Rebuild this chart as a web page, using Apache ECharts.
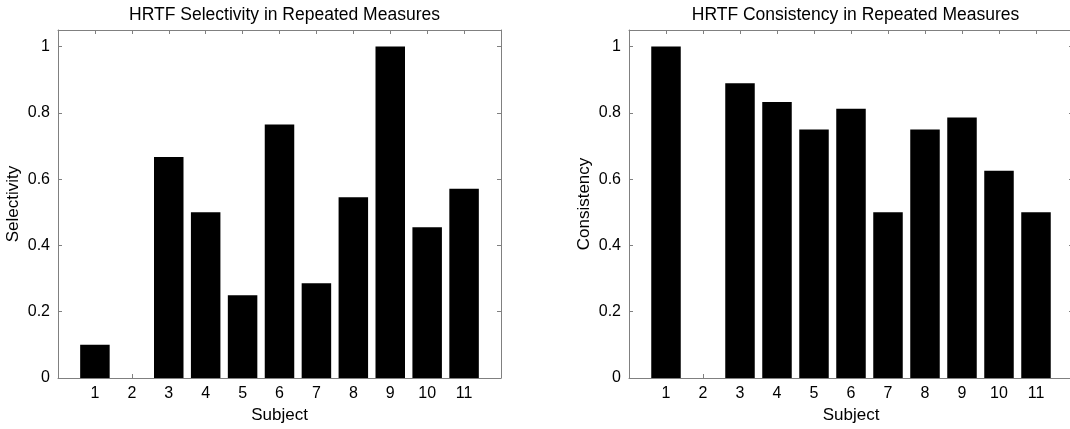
<!DOCTYPE html>
<html><head><meta charset="utf-8">
<script src="https://cdn.jsdelivr.net/npm/echarts@6/dist/echarts.min.js"></script>
<style>html,body{margin:0;padding:0;background:#fff}#c{width:1070px;height:429px}</style>
</head><body><div id="c"></div>
<script>
const subjects = [1,2,3,4,5,6,7,8,9,10,11];
const selectivity = [0.1, 0, 0.667, 0.5, 0.25, 0.765, 0.286, 0.545, 1.0, 0.455, 0.571];
const consistency = [1.0, 0, 0.889, 0.833, 0.75, 0.8125, 0.5, 0.75, 0.786, 0.625, 0.5];
const yTicks = [0, 0.2, 0.4, 0.6, 0.8, 1];
const titles = ['HRTF Selectivity in Repeated Measures', 'HRTF Consistency in Repeated Measures'];
const yNames = ['Selectivity', 'Consistency'];

const FONT = 'Liberation Sans, Arial, Helvetica, sans-serif';
const AX = '#808080';
const grids = [
  {left: 58, top: 30, width: 443, height: 348, outerBoundsMode: 'none', containLabel: false},
  {left: 629, top: 30, width: 444, height: 348, outerBoundsMode: 'none', containLabel: false}
];
const chart = echarts.init(document.getElementById('c'));
const xAxes = [], yAxes = [], series = [], title = [];
[selectivity, consistency].forEach((vals, i) => {
  const base = {gridIndex: i, type: 'value', min: 0, max: 12, interval: 1,
    axisLine: {show: true, onZero: false, lineStyle: {color: AX, width: 1}},
    axisTick: {show: true, inside: true, length: 4, lineStyle: {color: AX}},
    splitLine: {show: false}};
  xAxes.push(Object.assign({}, base, {position: 'bottom',
    name: 'Subject', nameLocation: 'middle', nameGap: 27,
    nameTextStyle: {fontFamily: FONT, fontSize: 17, color: '#000'},
    axisLabel: {show: true, margin: 8, fontFamily: FONT, fontSize: 16, color: '#000',
      formatter: v => (v >= 1 && v <= 11) ? String(subjects[v-1]) : ''}
  }));
  xAxes.push(Object.assign({}, base, {position: 'top', axisLabel: {show: false}}));
  const ybase = {gridIndex: i, type: 'value', min: 0, max: 1.05,
    axisLine: {show: true, onZero: false, lineStyle: {color: AX, width: 1}},
    axisTick: {show: true, inside: true, length: 4, lineStyle: {color: AX},
      customValues: yTicks},
    splitLine: {show: false}};
  yAxes.push(Object.assign({}, ybase, {position: 'left',
    name: yNames[i], nameLocation: 'middle', nameGap: 36,
    nameTextStyle: {fontFamily: FONT, fontSize: 17, color: '#000'},
    axisLabel: {show: true, margin: 8, fontFamily: FONT, fontSize: 16, color: '#000',
      customValues: yTicks, formatter: v => String(+v.toFixed(1))}
  }));
  yAxes.push(Object.assign({}, ybase, {position: 'right', axisLabel: {show: false}}));
  series.push({type: 'bar', xAxisIndex: i*2, yAxisIndex: i*2, barWidth: 29.5,
    itemStyle: {color: '#000'}, silent: true, animation: false,
    data: subjects.map((s, k) => [s, vals[k]])});
  title.push({text: titles[i], left: grids[0].left + grids[0].width/2 + i*571, top: 1, textAlign: 'center',
    textStyle: {fontFamily: FONT, fontSize: 17.5, fontWeight: 'normal', color: '#000'}});
});
chart.setOption({animation: false, title, grid: grids, xAxis: xAxes, yAxis: yAxes, series});
</script></body></html>
